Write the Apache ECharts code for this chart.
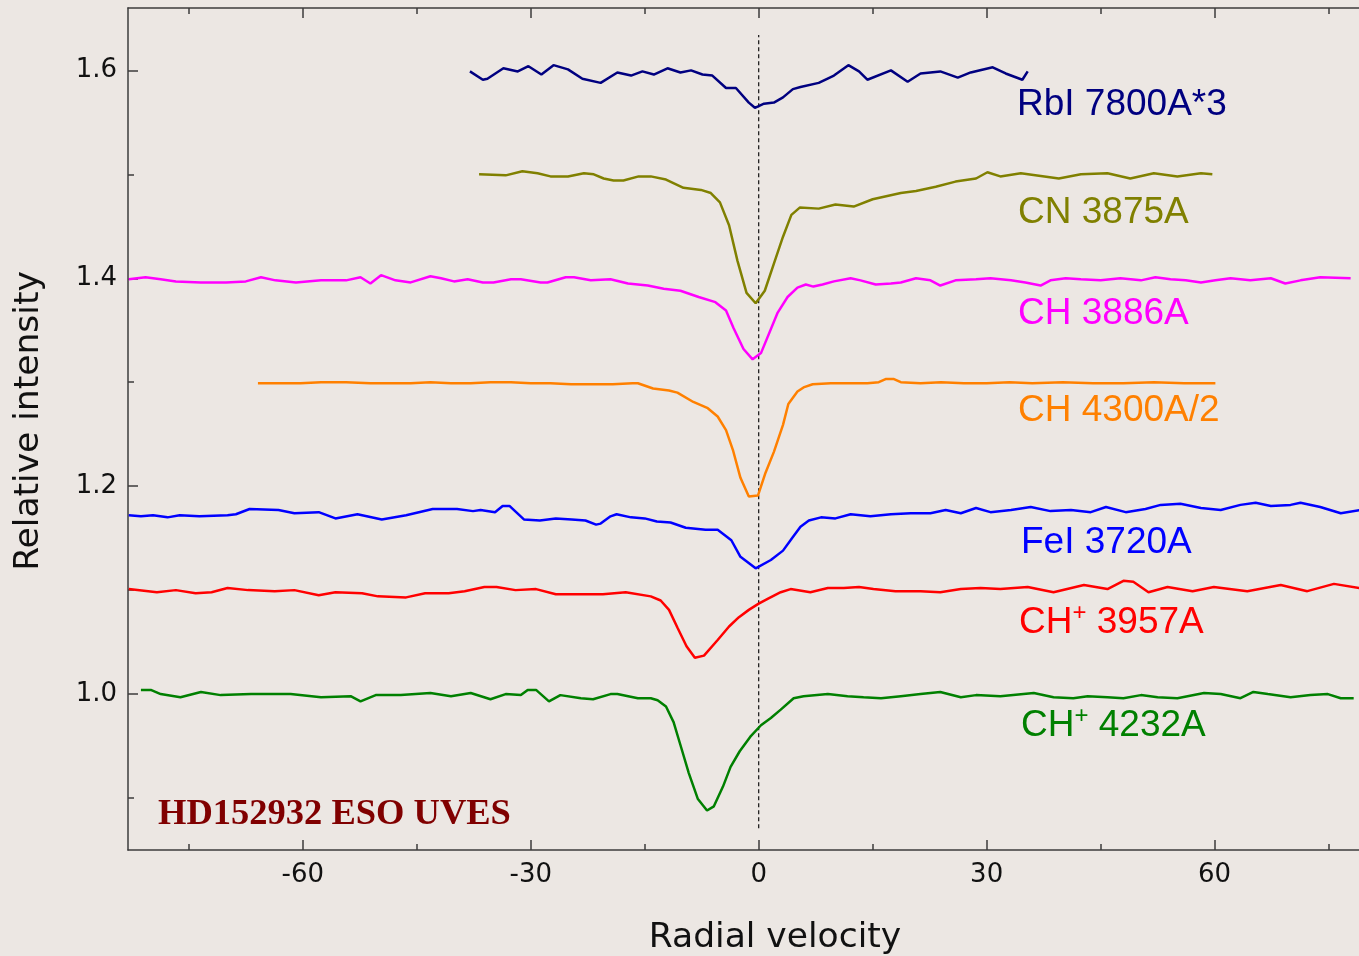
<!DOCTYPE html>
<html>
<head>
<meta charset="utf-8">
<script src="https://cdn.jsdelivr.net/npm/echarts@6/dist/echarts.min.js"></script>
<style>
html,body{margin:0;padding:0;background:#ece7e3;}
#c{width:1359px;height:956px;}
</style>
</head>
<body>
<div id="c"></div>
<script>
// Radial velocity (km/s) vs relative intensity, one array per spectral line
const rbI7800 = [[-38.0,1.599],[-36.3,1.591],[-35.7,1.592],[-33.6,1.602],[-31.7,1.599],[-30.3,1.604],[-28.6,1.596],[-27.0,1.605],[-25.1,1.601],[-23.2,1.592],[-20.8,1.588],[-18.6,1.598],[-16.8,1.595],[-15.3,1.599],[-13.8,1.596],[-12.0,1.602],[-10.3,1.598],[-8.9,1.600],[-7.4,1.596],[-6.1,1.595],[-4.3,1.583],[-3.0,1.583],[-1.3,1.569],[-0.5,1.564],[0.7,1.568],[2.0,1.569],[3.2,1.574],[4.5,1.582],[5.5,1.584],[7.9,1.588],[9.9,1.595],[11.8,1.605],[13.2,1.599],[14.3,1.591],[17.4,1.600],[19.6,1.589],[21.3,1.597],[23.9,1.599],[26.2,1.593],[27.9,1.598],[30.8,1.603],[32.5,1.597],[34.7,1.591],[35.4,1.599]];

const cn3875 = [[-36.8,1.500],[-33.3,1.499],[-31.1,1.503],[-29.1,1.501],[-27.4,1.498],[-25.1,1.498],[-23.0,1.501],[-21.7,1.500],[-20.4,1.496],[-19.1,1.494],[-17.8,1.494],[-15.8,1.498],[-14.2,1.498],[-12.2,1.495],[-9.9,1.487],[-7.6,1.485],[-6.3,1.482],[-5.1,1.473],[-3.9,1.451],[-2.8,1.417],[-1.6,1.386],[-0.4,1.376],[0.8,1.388],[2.0,1.414],[3.2,1.440],[4.3,1.461],[5.4,1.468],[7.9,1.467],[10.1,1.471],[12.5,1.469],[15.0,1.476],[18.7,1.482],[20.7,1.484],[23.3,1.488],[25.9,1.493],[28.6,1.496],[30.1,1.502],[31.8,1.498],[34.5,1.501],[39.5,1.496],[42.4,1.500],[45.9,1.501],[48.9,1.496],[52.0,1.501],[55.1,1.498],[58.2,1.501],[59.7,1.500]];

const ch3886 = [[-82.9,1.399],[-80.7,1.401],[-78.7,1.399],[-76.7,1.397],[-73.4,1.396],[-70.1,1.396],[-67.5,1.397],[-65.5,1.401],[-63.6,1.398],[-60.9,1.396],[-57.6,1.398],[-54.3,1.398],[-52.4,1.401],[-51.1,1.395],[-49.7,1.403],[-47.8,1.398],[-45.8,1.396],[-43.2,1.402],[-41.8,1.400],[-40.1,1.397],[-38.3,1.399],[-36.3,1.396],[-34.9,1.396],[-32.6,1.399],[-31.3,1.399],[-28.7,1.396],[-27.8,1.396],[-25.4,1.401],[-24.3,1.401],[-22.1,1.398],[-19.5,1.399],[-17.2,1.395],[-14.6,1.393],[-12.5,1.390],[-10.3,1.388],[-7.9,1.382],[-5.7,1.377],[-4.3,1.369],[-3.3,1.352],[-2.0,1.332],[-0.8,1.322],[0.3,1.328],[2.5,1.367],[3.8,1.382],[5.1,1.391],[6.2,1.394],[7.2,1.392],[8.4,1.394],[9.9,1.397],[12.1,1.400],[13.4,1.398],[15.4,1.394],[17.4,1.395],[18.7,1.396],[20.7,1.400],[22.6,1.398],[23.9,1.393],[25.9,1.398],[28.6,1.399],[30.5,1.400],[33.2,1.398],[35.1,1.396],[37.1,1.393],[38.4,1.398],[40.4,1.400],[42.4,1.399],[45.0,1.398],[47.6,1.400],[50.3,1.398],[52.2,1.401],[54.2,1.399],[56.2,1.398],[58.2,1.396],[60.1,1.398],[62.1,1.400],[64.7,1.398],[67.4,1.400],[69.3,1.395],[71.3,1.398],[73.9,1.401],[77.9,1.400]];

const ch4300 = [[-65.9,1.299],[-62.9,1.299],[-60.3,1.299],[-57.6,1.300],[-54.3,1.300],[-51.1,1.299],[-48.4,1.299],[-45.8,1.299],[-43.2,1.300],[-40.5,1.299],[-37.9,1.299],[-35.3,1.300],[-32.6,1.300],[-30.0,1.299],[-27.4,1.299],[-24.7,1.298],[-22.1,1.298],[-19.2,1.298],[-16.6,1.299],[-15.9,1.299],[-13.9,1.294],[-11.8,1.292],[-10.7,1.290],[-8.6,1.281],[-6.7,1.275],[-5.4,1.267],[-4.3,1.254],[-3.4,1.235],[-2.4,1.208],[-1.3,1.190],[-0.1,1.191],[0.9,1.213],[2.0,1.233],[3.2,1.259],[3.9,1.279],[5.1,1.291],[5.9,1.295],[7.1,1.298],[9.5,1.299],[12.5,1.299],[14.3,1.299],[15.8,1.300],[16.7,1.303],[17.8,1.303],[18.7,1.300],[21.3,1.299],[24.0,1.300],[27.0,1.299],[30.0,1.299],[33.0,1.300],[36.0,1.299],[40.0,1.300],[44.0,1.299],[48.0,1.299],[52.0,1.300],[56.0,1.299],[60.1,1.299]];

const fe3720 = [[-82.9,1.172],[-81.3,1.171],[-79.7,1.172],[-77.8,1.170],[-76.2,1.172],[-73.6,1.171],[-69.9,1.172],[-68.8,1.173],[-67.0,1.178],[-63.2,1.177],[-61.1,1.174],[-57.9,1.175],[-55.7,1.169],[-52.8,1.173],[-49.6,1.168],[-46.4,1.172],[-42.9,1.178],[-39.7,1.178],[-37.6,1.176],[-36.6,1.177],[-34.7,1.175],[-33.7,1.181],[-32.8,1.181],[-30.9,1.168],[-28.8,1.167],[-26.7,1.169],[-24.6,1.168],[-22.8,1.167],[-21.4,1.163],[-20.8,1.164],[-19.5,1.171],[-18.7,1.173],[-16.8,1.170],[-15.0,1.169],[-13.4,1.166],[-11.6,1.165],[-9.6,1.160],[-7.0,1.158],[-5.4,1.158],[-3.6,1.148],[-2.4,1.132],[-0.4,1.121],[1.6,1.129],[3.2,1.138],[4.5,1.151],[5.5,1.161],[6.6,1.167],[8.2,1.170],[10.1,1.169],[12.1,1.173],[14.7,1.171],[17.4,1.173],[20.0,1.174],[22.6,1.174],[24.6,1.177],[26.6,1.174],[28.6,1.179],[30.5,1.175],[33.2,1.177],[35.8,1.180],[38.4,1.176],[41.1,1.177],[43.7,1.175],[45.7,1.180],[48.3,1.175],[50.9,1.178],[52.9,1.182],[55.5,1.183],[58.2,1.179],[60.8,1.177],[63.4,1.182],[65.4,1.184],[67.4,1.181],[70.0,1.182],[71.3,1.184],[73.9,1.180],[76.6,1.174],[79.1,1.177]];

const chp3957 = [[-82.9,1.101],[-79.2,1.098],[-76.7,1.100],[-74.1,1.097],[-72.0,1.098],[-69.9,1.102],[-67.2,1.100],[-63.7,1.099],[-61.1,1.100],[-57.9,1.095],[-55.7,1.098],[-52.2,1.097],[-50.1,1.094],[-46.4,1.093],[-43.9,1.097],[-40.8,1.097],[-38.7,1.099],[-36.1,1.103],[-34.5,1.103],[-32.0,1.100],[-29.3,1.101],[-26.7,1.096],[-24.6,1.096],[-20.5,1.096],[-17.5,1.098],[-14.2,1.094],[-12.9,1.090],[-11.8,1.081],[-10.7,1.064],[-9.5,1.046],[-8.4,1.035],[-7.2,1.037],[-5.4,1.052],[-3.9,1.065],[-2.6,1.074],[-1.3,1.081],[0.0,1.087],[1.3,1.092],[2.9,1.098],[4.2,1.101],[6.8,1.098],[9.1,1.102],[11.2,1.102],[13.2,1.103],[15.1,1.101],[18.0,1.099],[21.3,1.099],[23.9,1.098],[26.6,1.101],[29.2,1.102],[31.8,1.101],[35.4,1.103],[38.8,1.098],[42.8,1.105],[45.9,1.101],[48.0,1.109],[49.3,1.108],[51.3,1.098],[53.8,1.103],[57.1,1.099],[59.9,1.103],[64.3,1.099],[68.7,1.105],[72.2,1.099],[75.7,1.106],[79.1,1.102]];

const chp4232 = [[-81.3,1.004],[-80.0,1.004],[-78.7,1.000],[-76.1,0.997],[-73.4,1.002],[-70.8,0.999],[-66.8,1.000],[-61.6,1.000],[-57.6,0.997],[-53.7,0.998],[-52.4,0.993],[-50.4,0.999],[-47.1,0.999],[-43.2,1.001],[-40.5,0.998],[-37.9,1.001],[-35.3,0.995],[-33.3,1.000],[-31.3,0.999],[-30.4,1.004],[-29.3,1.004],[-27.6,0.993],[-26.1,0.999],[-23.4,0.996],[-21.8,0.995],[-19.5,1.000],[-18.6,1.000],[-15.9,0.996],[-14.2,0.996],[-13.3,0.994],[-12.2,0.988],[-11.2,0.973],[-10.3,0.951],[-9.2,0.924],[-8.0,0.899],[-6.8,0.888],[-5.9,0.892],[-4.7,0.911],[-3.7,0.930],[-2.5,0.945],[-1.1,0.959],[0.3,0.970],[1.6,0.977],[2.9,0.985],[4.6,0.996],[5.9,0.998],[9.1,1.000],[11.7,0.998],[13.8,0.997],[16.1,0.996],[18.7,0.998],[21.3,1.000],[23.9,1.002],[26.6,0.997],[28.6,0.999],[31.8,0.998],[36.2,1.001],[38.8,0.997],[41.4,0.996],[43.3,0.998],[45.9,0.997],[48.0,0.996],[50.3,0.999],[52.5,0.997],[55.1,0.996],[58.6,1.001],[60.8,1.000],[63.4,0.996],[65.1,1.002],[67.0,1.000],[70.0,0.997],[72.6,0.999],[74.9,1.000],[76.6,0.996],[78.3,0.996]];

const zeroLine = [[0,0.871],[0,1.634]];

const xMajorTicks = [-60,-30,0,30,60];
const xMinorTicks = [-75,-45,-15,15,45,75];
const yMajorTicks = [1.0,1.2,1.4,1.6];
const yMinorTicks = [0.9,1.1,1.3,1.5];

const seriesNames = ['RbI 7800A*3','CN 3875A','CH 3886A','CH 4300A/2','FeI 3720A','CH+ 3957A','CH+ 4232A'];
const seriesData = [rbI7800, cn3875, ch3886, ch4300, fe3720, chp3957, chp4232];
const seriesColors = ['#000080','#808000','#ff00ff','#ff8000','#0000ff','#ff0000','#008000'];

const chart = echarts.init(document.getElementById('c'), null, {renderer:'canvas'});
const axisCol = '#3c3c3c';
const tickFont = {fontSize:26, color:'#111', fontFamily:'DejaVu Sans'};

function xAx(pos, ticks, len, showLine, showLabel) {
  return {
    type:'value', min:-83, max:79, position:pos, gridIndex:0,
    axisLine:{show:showLine, onZero:false, lineStyle:{color:axisCol, width:1.5}},
    axisTick:{show:true, inside:true, length:len, customValues:ticks, lineStyle:{color:axisCol, width:1.5}},
    axisLabel:showLabel ? Object.assign({show:true, margin:12, customValues:ticks}, tickFont) : {show:false},
    splitLine:{show:false}
  };
}
function yAx(ticks, len, showLine, showLabel) {
  return {
    type:'value', min:0.85, max:1.66, position:'left', gridIndex:0,
    axisLine:{show:showLine, onZero:false, lineStyle:{color:axisCol, width:1.5}},
    axisTick:{show:true, inside:true, length:len, customValues:ticks, lineStyle:{color:axisCol, width:1.5}},
    axisLabel:showLabel ? Object.assign({show:true, margin:11, customValues:ticks, formatter:v=>Number(v).toFixed(1)}, tickFont) : {show:false},
    splitLine:{show:false}
  };
}

const labelPos = [[1017,108],[1018,216],[1018,317],[1018,414],[1021,546],[1019,623],[1021,726]];
const graphics = seriesNames.map((n,i)=>{
  const isPlus = n.indexOf('CH+') === 0;
  const txt = isPlus ? '{a|CH}{s|+}{a|' + n.slice(3) + '}' : '{a|' + n + '}';
  return {
    type:'text', left:labelPos[i][0], top:labelPos[i][1]-22, silent:true,
    style:{
      text:txt, fill:seriesColors[i],
      rich:{
        a:{fontSize:37, fontFamily:'Liberation Sans', fill:seriesColors[i], lineHeight:44},
        s:{fontSize:24, fontFamily:'Liberation Sans', fill:seriesColors[i], verticalAlign:'top', lineHeight:24}
      }
    }
  };
});
graphics.push({
  type:'text', left:158, top:796, silent:true,
  style:{text:'HD152932 ESO UVES', fill:'#800000', font:'bold 36.5px "Liberation Serif"'}
});
graphics.push({
  type:'text', x:775, y:938, silent:true,
  style:{text:'Radial velocity', fill:'#111', font:'34.5px "DejaVu Sans"', align:'center', verticalAlign:'middle'}
});
graphics.push({
  type:'text', x:29, y:421, rotation:Math.PI/2, silent:true,
  style:{text:'Relative intensity', fill:'#111', font:'34.5px "DejaVu Sans"', align:'center', verticalAlign:'middle'}
});

const series = seriesData.map((d,i)=>({
  name:seriesNames[i], type:'line', data:d, xAxisIndex:0, yAxisIndex:0,
  symbol:'none', smooth:false, lineStyle:{color:seriesColors[i], width:2.5}, itemStyle:{color:seriesColors[i]},
  silent:true, z:3
}));
series.push({
  name:'v0', type:'line', data:zeroLine, xAxisIndex:0, yAxisIndex:0, symbol:'none',
  lineStyle:{color:'#111', width:1.2, type:[4,3]}, silent:true, z:2
});

chart.setOption({
  animation:false,
  backgroundColor:'#ece7e3',
  grid:{left:128, right:0, top:8, bottom:106, containLabel:false},
  xAxis:[
    xAx('bottom', xMajorTicks, 10, true, true),
    xAx('bottom', xMinorTicks, 6, false, false),
    xAx('top', xMajorTicks, 10, true, false),
    xAx('top', xMinorTicks, 6, false, false)
  ],
  yAxis:[
    yAx(yMajorTicks, 10, true, true),
    yAx(yMinorTicks, 6, false, false)
  ],
  graphic:graphics,
  series:series
});
</script>
</body>
</html>
